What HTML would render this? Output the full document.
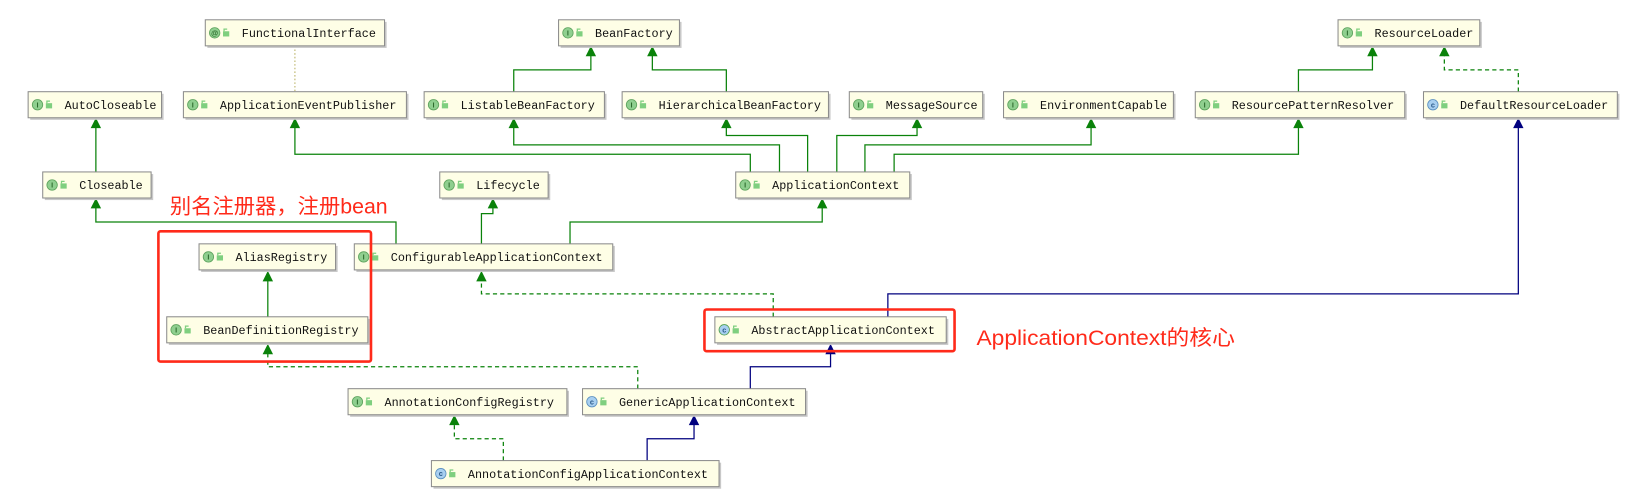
<!DOCTYPE html>
<html><head><meta charset="utf-8"><style>
html,body{margin:0;padding:0;background:#fff;}
svg{display:block;}
.n rect.b{fill:#fefee6;stroke:#8c8c8c;stroke-width:1;}
.n rect.s{fill:#c8c8c8;}
.t{font-family:"Liberation Mono",monospace;font-size:11.3px;fill:#111;}
.ic{font-family:"Liberation Sans",sans-serif;font-size:7px;font-weight:bold;fill:#2d6b2d;text-anchor:middle;}
.g{stroke:#0a820a;stroke-width:1.2;fill:none;}
.gd{stroke:#0a820a;stroke-width:1.2;fill:none;stroke-dasharray:4,3;}
.bl{stroke:#00007f;stroke-width:1.2;fill:none;}
.ga{fill:#0a820a;}
.ba{fill:#00007f;}
.red{font-family:"Liberation Sans","Noto Sans CJK SC",sans-serif;font-size:20px;fill:#ff2a1a;}
</style></head><body>
<svg width="1634" height="503" viewBox="0 0 1568 482.7" preserveAspectRatio="none" xmlns="http://www.w3.org/2000/svg">
<defs>
<g id="lk"><rect x="0" y="3" width="6" height="5" fill="#7fcf7f"/><path d="M1,3 V1 H4" stroke="#7fcf7f" stroke-width="1.2" fill="none"/></g>
</defs>

<path d="M283,44 V88" stroke="#b8b060" stroke-width="1" stroke-dasharray="1.5,2" fill="none"/>
<path class="g" d="M92,165 V120"/><polygon class="ga" points="92,113 87,123 97,123"/>
<path class="g" d="M493,88 V67 H567 V51"/><polygon class="ga" points="567,44 562,54 572,54"/>
<path class="g" d="M697,88 V67 H626 V51"/><polygon class="ga" points="626,44 621,54 631,54"/>
<path class="g" d="M1246,88 V67 H1317 V51"/><polygon class="ga" points="1317,44 1312,54 1322,54"/>
<path class="gd" d="M1457,88 V67 H1386 V51"/><polygon class="ga" points="1386,44 1381,54 1391,54"/>

<path class="g" d="M720,165 V148 H283 V120"/><polygon class="ga" points="283,113 278,123 288,123"/>
<path class="g" d="M748,165 V139 H493 V120"/><polygon class="ga" points="493,113 488,123 498,123"/>
<path class="g" d="M775,165 V130 H697 V120"/><polygon class="ga" points="697,113 692,123 702,123"/>
<path class="g" d="M803,165 V130 H880 V120"/><polygon class="ga" points="880,113 875,123 885,123"/>
<path class="g" d="M830,165 V139 H1047 V120"/><polygon class="ga" points="1047,113 1042,123 1052,123"/>
<path class="g" d="M858,165 V148 H1246 V120"/><polygon class="ga" points="1246,113 1241,123 1251,123"/>

<path class="g" d="M380,234 V213 H92 V197"/><polygon class="ga" points="92,190 87,200 97,200"/>
<path class="g" d="M462,234 V205 H473 V197"/><polygon class="ga" points="473,190 468,200 478,200"/>
<path class="g" d="M547,234 V213 H789 V197"/><polygon class="ga" points="789,190 784,200 794,200"/>

<path class="gd" d="M742,304 V282 H462 V267"/><polygon class="ga" points="462,260 457,270 467,270"/>
<path class="bl" d="M852,304 V282 H1457 V120"/><polygon class="ba" points="1457,113 1452,123 1462,123"/>
<path class="g" d="M257,304 V267"/><polygon class="ga" points="257,260 252,270 262,270"/>

<path class="gd" d="M612,373 V352 H257 V337"/><polygon class="ga" points="257,330 252,340 262,340"/>
<path class="bl" d="M720,373 V352 H797 V337"/><polygon class="ba" points="797,330 792,340 802,340"/>
<path class="gd" d="M483,442 V421 H436 V405"/><polygon class="ga" points="436,398 431,408 441,408"/>
<path class="bl" d="M621,442 V421 H666 V405"/><polygon class="ba" points="666,398 661,408 671,408"/>

<g class="n"><rect class="s" x="199" y="21" width="172" height="25"/><rect class="b" x="197" y="19" width="172" height="25"/><circle cx="206" cy="31.5" r="5" fill="#8fcf8f" stroke="#5da35d" stroke-width=".8"/><text class="ic" x="206" y="34">@</text><use href="#lk" x="214" y="27"/><text class="t" x="232" y="35.5">FunctionalInterface</text></g>
<g class="n"><rect class="s" x="538" y="21" width="116" height="25"/><rect class="b" x="536" y="19" width="116" height="25"/><circle cx="545" cy="31.5" r="5" fill="#8fcf8f" stroke="#5da35d" stroke-width=".8"/><text class="ic" x="545" y="34">I</text><use href="#lk" x="553" y="27"/><text class="t" x="571" y="35.5">BeanFactory</text></g>
<g class="n"><rect class="s" x="1286" y="21" width="136" height="25"/><rect class="b" x="1284" y="19" width="136" height="25"/><circle cx="1293" cy="31.5" r="5" fill="#8fcf8f" stroke="#5da35d" stroke-width=".8"/><text class="ic" x="1293" y="34">I</text><use href="#lk" x="1301" y="27"/><text class="t" x="1319" y="35.5">ResourceLoader</text></g>

<g class="n"><rect class="s" x="29" y="90" width="128" height="25"/><rect class="b" x="27" y="88" width="128" height="25"/><circle cx="36" cy="100.5" r="5" fill="#8fcf8f" stroke="#5da35d" stroke-width=".8"/><text class="ic" x="36" y="103">I</text><use href="#lk" x="44" y="96"/><text class="t" x="62" y="104.5">AutoCloseable</text></g>
<g class="n"><rect class="s" x="178" y="90" width="214" height="25"/><rect class="b" x="176" y="88" width="214" height="25"/><circle cx="185" cy="100.5" r="5" fill="#8fcf8f" stroke="#5da35d" stroke-width=".8"/><text class="ic" x="185" y="103">I</text><use href="#lk" x="193" y="96"/><text class="t" x="211" y="104.5">ApplicationEventPublisher</text></g>
<g class="n"><rect class="s" x="409" y="90" width="173" height="25"/><rect class="b" x="407" y="88" width="173" height="25"/><circle cx="416" cy="100.5" r="5" fill="#8fcf8f" stroke="#5da35d" stroke-width=".8"/><text class="ic" x="416" y="103">I</text><use href="#lk" x="424" y="96"/><text class="t" x="442" y="104.5">ListableBeanFactory</text></g>
<g class="n"><rect class="s" x="599" y="90" width="198" height="25"/><rect class="b" x="597" y="88" width="198" height="25"/><circle cx="606" cy="100.5" r="5" fill="#8fcf8f" stroke="#5da35d" stroke-width=".8"/><text class="ic" x="606" y="103">I</text><use href="#lk" x="614" y="96"/><text class="t" x="632" y="104.5">HierarchicalBeanFactory</text></g>
<g class="n"><rect class="s" x="817" y="90" width="128" height="25"/><rect class="b" x="815" y="88" width="128" height="25"/><circle cx="824" cy="100.5" r="5" fill="#8fcf8f" stroke="#5da35d" stroke-width=".8"/><text class="ic" x="824" y="103">I</text><use href="#lk" x="832" y="96"/><text class="t" x="850" y="104.5">MessageSource</text></g>
<g class="n"><rect class="s" x="965" y="90" width="163" height="25"/><rect class="b" x="963" y="88" width="163" height="25"/><circle cx="972" cy="100.5" r="5" fill="#8fcf8f" stroke="#5da35d" stroke-width=".8"/><text class="ic" x="972" y="103">I</text><use href="#lk" x="980" y="96"/><text class="t" x="998" y="104.5">EnvironmentCapable</text></g>
<g class="n"><rect class="s" x="1149" y="90" width="201" height="25"/><rect class="b" x="1147" y="88" width="201" height="25"/><circle cx="1156" cy="100.5" r="5" fill="#8fcf8f" stroke="#5da35d" stroke-width=".8"/><text class="ic" x="1156" y="103">I</text><use href="#lk" x="1164" y="96"/><text class="t" x="1182" y="104.5">ResourcePatternResolver</text></g>
<g class="n"><rect class="s" x="1368" y="90" width="186" height="25"/><rect class="b" x="1366" y="88" width="186" height="25"/><circle cx="1375" cy="100.5" r="5" fill="#a8cff0" stroke="#5a8fc0" stroke-width=".8"/><text class="ic" x="1375" y="103" style="fill:#2b5a8a">c</text><use href="#lk" x="1383" y="96"/><text class="t" x="1401" y="104.5">DefaultResourceLoader</text></g>

<g class="n"><rect class="s" x="43" y="167" width="104" height="25"/><rect class="b" x="41" y="165" width="104" height="25"/><circle cx="50" cy="177.5" r="5" fill="#8fcf8f" stroke="#5da35d" stroke-width=".8"/><text class="ic" x="50" y="180">I</text><use href="#lk" x="58" y="173"/><text class="t" x="76" y="181.5">Closeable</text></g>
<g class="n"><rect class="s" x="424" y="167" width="104" height="25"/><rect class="b" x="422" y="165" width="104" height="25"/><circle cx="431" cy="177.5" r="5" fill="#8fcf8f" stroke="#5da35d" stroke-width=".8"/><text class="ic" x="431" y="180">I</text><use href="#lk" x="439" y="173"/><text class="t" x="457" y="181.5">Lifecycle</text></g>
<g class="n"><rect class="s" x="708" y="167" width="167" height="25"/><rect class="b" x="706" y="165" width="167" height="25"/><circle cx="715" cy="177.5" r="5" fill="#8fcf8f" stroke="#5da35d" stroke-width=".8"/><text class="ic" x="715" y="180">I</text><use href="#lk" x="723" y="173"/><text class="t" x="741" y="181.5">ApplicationContext</text></g>

<g class="n"><rect class="s" x="193" y="236" width="131" height="25"/><rect class="b" x="191" y="234" width="131" height="25"/><circle cx="200" cy="246.5" r="5" fill="#8fcf8f" stroke="#5da35d" stroke-width=".8"/><text class="ic" x="200" y="249">I</text><use href="#lk" x="208" y="242"/><text class="t" x="226" y="250.5">AliasRegistry</text></g>
<g class="n"><rect class="s" x="342" y="236" width="248" height="25"/><rect class="b" x="340" y="234" width="248" height="25"/><circle cx="349" cy="246.5" r="5" fill="#8fcf8f" stroke="#5da35d" stroke-width=".8"/><text class="ic" x="349" y="249">I</text><use href="#lk" x="357" y="242"/><text class="t" x="375" y="250.5">ConfigurableApplicationContext</text></g>
<g class="n"><rect class="s" x="162" y="306" width="193" height="25"/><rect class="b" x="160" y="304" width="193" height="25"/><circle cx="169" cy="316.5" r="5" fill="#8fcf8f" stroke="#5da35d" stroke-width=".8"/><text class="ic" x="169" y="319">I</text><use href="#lk" x="177" y="312"/><text class="t" x="195" y="320.5">BeanDefinitionRegistry</text></g>
<g class="n"><rect class="s" x="688" y="306" width="222" height="25"/><rect class="b" x="686" y="304" width="222" height="25"/><circle cx="695" cy="316.5" r="5" fill="#a8cff0" stroke="#4fa04f" stroke-width=".8"/><text class="ic" x="695" y="319" style="fill:#2b5a8a">c</text><use href="#lk" x="703" y="312"/><text class="t" x="721" y="320.5">AbstractApplicationContext</text></g>

<g class="n"><rect class="s" x="336" y="375" width="210" height="25"/><rect class="b" x="334" y="373" width="210" height="25"/><circle cx="343" cy="385.5" r="5" fill="#8fcf8f" stroke="#5da35d" stroke-width=".8"/><text class="ic" x="343" y="388">I</text><use href="#lk" x="351" y="381"/><text class="t" x="369" y="389.5">AnnotationConfigRegistry</text></g>
<g class="n"><rect class="s" x="561" y="375" width="214" height="25"/><rect class="b" x="559" y="373" width="214" height="25"/><circle cx="568" cy="385.5" r="5" fill="#a8cff0" stroke="#5a8fc0" stroke-width=".8"/><text class="ic" x="568" y="388" style="fill:#2b5a8a">c</text><use href="#lk" x="576" y="381"/><text class="t" x="594" y="389.5">GenericApplicationContext</text></g>
<g class="n"><rect class="s" x="416" y="444" width="276" height="25"/><rect class="b" x="414" y="442" width="276" height="25"/><circle cx="423" cy="454.5" r="5" fill="#a8cff0" stroke="#5a8fc0" stroke-width=".8"/><text class="ic" x="423" y="457" style="fill:#2b5a8a">c</text><use href="#lk" x="431" y="450"/><text class="t" x="449" y="458.5">AnnotationConfigApplicationContext</text></g>

<rect x="152" y="222" width="204" height="125" rx="2" fill="none" stroke="#ff2a1a" stroke-width="2.5"/>
<rect x="676" y="297" width="240" height="40" rx="2" fill="none" stroke="#ff2a1a" stroke-width="2.5"/>
<text class="red" x="163" y="205" textLength="209" lengthAdjust="spacingAndGlyphs">别名注册器，注册bean</text>
<text class="red" x="937" y="331" textLength="248" lengthAdjust="spacingAndGlyphs">ApplicationContext的核心</text>
</svg>
</body></html>
